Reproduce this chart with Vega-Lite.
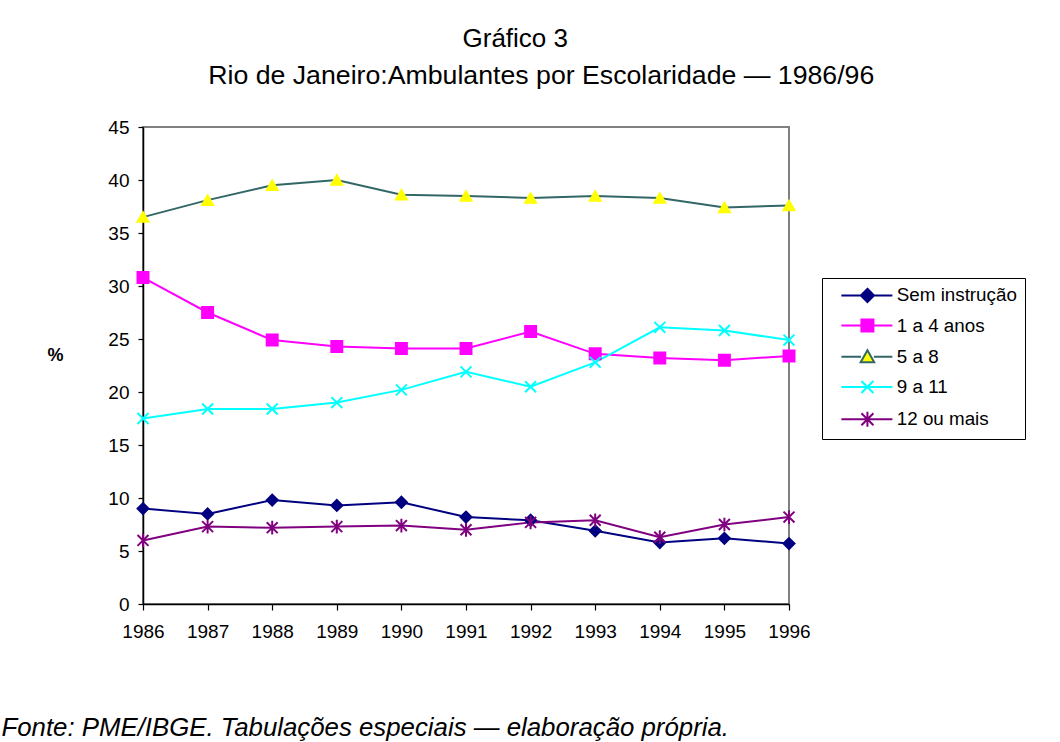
{
  "$schema": "https://vega.github.io/schema/vega-lite/v6.json",
  "width": 646,
  "height": 477,
  "autosize": {"type": "none"},
  "padding": {"left": 143, "top": 127, "right": 271, "bottom": 138},
  "background": "white",
  "title": {
    "text": "Gráfico 3",
    "subtitle": "Rio de Janeiro:Ambulantes por Escolaridade — 1986/96",
    "anchor": "middle",
    "frame": "bounds",
    "font": "Liberation Sans",
    "fontSize": 26,
    "fontWeight": "normal",
    "color": "black",
    "subtitleFont": "Liberation Sans",
    "subtitleFontSize": 26.7,
    "subtitleColor": "black",
    "subtitlePadding": 11,
    "offset": 28,
    "dx": 28,
    "encoding": {"dx": {"value": 2}}
  },
  "config": {
    "view": {"stroke": "#808080", "strokeWidth": 2},
    "font": "Liberation Sans",
    "axis": {"grid": false, "labelFont": "Liberation Sans", "labelColor": "black", "labelFontSize": 19, "tickColor": "black", "domainColor": "black", "domainWidth": 1.5, "tickWidth": 1.2}
  },
  "data": {
    "values": [
      {"year": 1986, "series": "Sem instrução", "value": 9.0},
      {"year": 1987, "series": "Sem instrução", "value": 8.5},
      {"year": 1988, "series": "Sem instrução", "value": 9.8},
      {"year": 1989, "series": "Sem instrução", "value": 9.3},
      {"year": 1990, "series": "Sem instrução", "value": 9.6},
      {"year": 1991, "series": "Sem instrução", "value": 8.2},
      {"year": 1992, "series": "Sem instrução", "value": 7.9},
      {"year": 1993, "series": "Sem instrução", "value": 6.9},
      {"year": 1994, "series": "Sem instrução", "value": 5.8},
      {"year": 1995, "series": "Sem instrução", "value": 6.2},
      {"year": 1996, "series": "Sem instrução", "value": 5.7},
      {"year": 1986, "series": "1 a 4 anos", "value": 30.8},
      {"year": 1987, "series": "1 a 4 anos", "value": 27.5},
      {"year": 1988, "series": "1 a 4 anos", "value": 24.9},
      {"year": 1989, "series": "1 a 4 anos", "value": 24.3},
      {"year": 1990, "series": "1 a 4 anos", "value": 24.1},
      {"year": 1991, "series": "1 a 4 anos", "value": 24.1},
      {"year": 1992, "series": "1 a 4 anos", "value": 25.7},
      {"year": 1993, "series": "1 a 4 anos", "value": 23.6},
      {"year": 1994, "series": "1 a 4 anos", "value": 23.2},
      {"year": 1995, "series": "1 a 4 anos", "value": 23.0},
      {"year": 1996, "series": "1 a 4 anos", "value": 23.4},
      {"year": 1986, "series": "5 a 8", "value": 36.5},
      {"year": 1987, "series": "5 a 8", "value": 38.1},
      {"year": 1988, "series": "5 a 8", "value": 39.5},
      {"year": 1989, "series": "5 a 8", "value": 40.0},
      {"year": 1990, "series": "5 a 8", "value": 38.6},
      {"year": 1991, "series": "5 a 8", "value": 38.5},
      {"year": 1992, "series": "5 a 8", "value": 38.3},
      {"year": 1993, "series": "5 a 8", "value": 38.5},
      {"year": 1994, "series": "5 a 8", "value": 38.3},
      {"year": 1995, "series": "5 a 8", "value": 37.4},
      {"year": 1996, "series": "5 a 8", "value": 37.6},
      {"year": 1986, "series": "9 a 11", "value": 17.5},
      {"year": 1987, "series": "9 a 11", "value": 18.4},
      {"year": 1988, "series": "9 a 11", "value": 18.4},
      {"year": 1989, "series": "9 a 11", "value": 19.0},
      {"year": 1990, "series": "9 a 11", "value": 20.2},
      {"year": 1991, "series": "9 a 11", "value": 21.9},
      {"year": 1992, "series": "9 a 11", "value": 20.5},
      {"year": 1993, "series": "9 a 11", "value": 22.8},
      {"year": 1994, "series": "9 a 11", "value": 26.1},
      {"year": 1995, "series": "9 a 11", "value": 25.8},
      {"year": 1996, "series": "9 a 11", "value": 24.9},
      {"year": 1986, "series": "12 ou mais", "value": 6.0},
      {"year": 1987, "series": "12 ou mais", "value": 7.3},
      {"year": 1988, "series": "12 ou mais", "value": 7.2},
      {"year": 1989, "series": "12 ou mais", "value": 7.3},
      {"year": 1990, "series": "12 ou mais", "value": 7.4},
      {"year": 1991, "series": "12 ou mais", "value": 7.0},
      {"year": 1992, "series": "12 ou mais", "value": 7.7},
      {"year": 1993, "series": "12 ou mais", "value": 7.9},
      {"year": 1994, "series": "12 ou mais", "value": 6.3},
      {"year": 1995, "series": "12 ou mais", "value": 7.5},
      {"year": 1996, "series": "12 ou mais", "value": 8.2}
    ]
  },
  "encoding": {
    "x": {
      "field": "year",
      "type": "quantitative",
      "scale": {"domain": [1986, 1996], "nice": false, "zero": false},
      "axis": {
        "values": [1986, 1987, 1988, 1989, 1990, 1991, 1992, 1993, 1994, 1995, 1996],
        "format": "d",
        "tickSize": 6,
        "labelPadding": 12,
        "labelFlush": false,
        "labelOverlap": false,
        "encode": {"ticks": {"update": {"y": {"value": -6}}}},
        "title": "Fonte: PME/IBGE. Tabulações especiais — elaboração própria.",
        "titleFont": "Liberation Sans",
        "titleFontSize": 25.8,
        "titleFontStyle": "italic",
        "titleFontWeight": "normal",
        "titleColor": "black",
        "titleAlign": "left",
        "titleAnchor": "start",
        "titleBaseline": "alphabetic",
        "titleX": -142,
        "titleY": 131
      }
    },
    "y": {
      "field": "value",
      "type": "quantitative",
      "scale": {"domain": [0, 45], "nice": false},
      "axis": {
        "values": [0, 5, 10, 15, 20, 25, 30, 35, 40, 45],
        "tickSize": 5,
        "labelPadding": 9,
        "title": "%",
        "titleAngle": 0,
        "titleFont": "Liberation Sans",
        "titleFontSize": 18,
        "titleFontWeight": "bold",
        "titleColor": "black",
        "titleAlign": "center",
        "titleBaseline": "middle",
        "titleX": -88,
        "titleY": 228
      }
    }
  },
  "layer": [
    {
      "mark": {"type": "line", "strokeWidth": 2},
      "encoding": {
        "order": {"field": "year", "type": "quantitative"},
        "stroke": {
          "field": "series",
          "type": "nominal",
          "scale": {
            "domain": ["Sem instrução", "1 a 4 anos", "5 a 8", "9 a 11", "12 ou mais"],
            "range": ["#000080", "#FF00FF", "#336666", "#00FFFF", "#800080"]
          },
          "legend": {
            "orient": "none",
            "legendX": 679,
            "legendY": 151,
            "title": null,
            "padding": 8,
            "strokeColor": "black",
            "fillColor": "white",
            "labelFont": "Liberation Sans",
            "labelFontSize": 18.8,
            "labelColor": "black",
            "labelOffset": 48,
            "rowPadding": 9.2,
            "symbolSize": 144,
            "symbolStrokeWidth": 2,
            "encode": {
              "symbols": {
                "update": {
                  "size": {"value": 144},
                  "strokeWidth": {"value": 2},
                  "opacity": {"value": 1},
                  "shape": {"signal": "['M0.33,0H8.83M4.67,-1.1L5.77,0L4.67,1.1L3.57,0Z','M0.33,0H8.83M3.67,-1H5.67V1H3.67Z','M0.33,0H3.6M5.74,0H8.83M4.67,-1.1L5.8,0.9H3.54Z','M0.33,0H8.83M3.67,-1L5.67,1M3.67,1L5.67,-1','M0.33,0H8.83M3.67,-1L5.67,1M3.67,1L5.67,-1M4.67,-1.25V1.25'][datum.index]"},
                  "fill": {"signal": "['#000080','#FF00FF','#FFFF00','#00FFFF','#800080'][datum.index]"},
                  "stroke": {"signal": "['#000080','#FF00FF','#336666','#00FFFF','#800080'][datum.index]"}
                }
              }
            }
          }
        }
      }
    },
    {
      "mark": {"type": "point", "filled": true, "opacity": 1, "strokeWidth": 2, "size": 120},
      "encoding": {
        "fill": {
          "field": "series",
          "type": "nominal",
          "scale": {
            "domain": ["Sem instrução", "1 a 4 anos", "5 a 8", "9 a 11", "12 ou mais"],
            "range": ["#000080", "#FF00FF", "#FFFF00", "#00FFFF", "#800080"]
          },
          "legend": null
        },
        "stroke": {
          "field": "series",
          "type": "nominal",
          "scale": {
            "domain": ["Sem instrução", "1 a 4 anos", "5 a 8", "9 a 11", "12 ou mais"],
            "range": ["#000080", "#FF00FF", "#FFFF00", "#00FFFF", "#800080"]
          },
          "legend": null
        },
        "shape": {
          "field": "series",
          "type": "nominal",
          "scale": {
            "domain": ["Sem instrução", "1 a 4 anos", "5 a 8", "9 a 11", "12 ou mais"],
            "range": ["diamond", "square", "triangle-up", "M-1,-1L1,1M-1,1L1,-1", "M-1,-1L1,1M-1,1L1,-1M0,-1.25V1.25"]
          },
          "legend": null
        }
      }
    }
  ],
  "resolve": {"scale": {"stroke": "independent"}}
}
